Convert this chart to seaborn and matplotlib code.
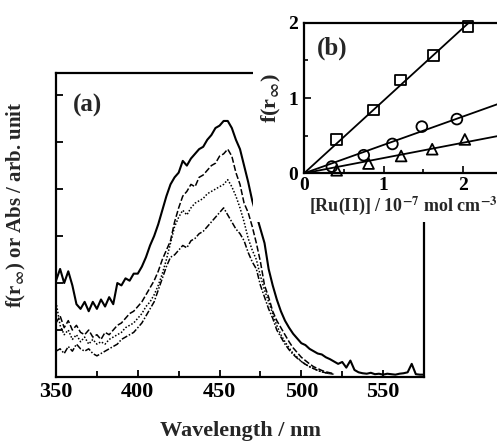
import numpy as np
import pandas as pd
import matplotlib
matplotlib.use("Agg")
import matplotlib.pyplot as plt
import seaborn as sns
from matplotlib.patches import Rectangle
from matplotlib.ticker import MultipleLocator

# ---------- data ----------
# (a) diffuse reflectance spectra, 2.5 nm steps
wl_full = np.arange(350, 575.1, 2.5)
wl_short = np.arange(350, 520.1, 2.5)

solid = [2.05, 2.3, 2.0, 2.25, 1.95, 1.55, 1.45, 1.6, 1.4, 1.6, 1.45, 1.65, 1.5, 1.7,
         1.55, 2.0, 1.95, 2.1, 2.05, 2.2, 2.2, 2.35, 2.55, 2.8, 3.0, 3.25, 3.55, 3.85,
         4.1, 4.25, 4.35, 4.6, 4.5, 4.65, 4.75, 4.85, 4.9, 5.05, 5.15, 5.3, 5.35, 5.45,
         5.45, 5.3, 5.05, 4.85, 4.5, 4.15, 3.75, 3.45, 3.15, 2.85, 2.3, 1.95, 1.65, 1.4,
         1.2, 1.05, 0.92, 0.82, 0.72, 0.68, 0.6, 0.55, 0.5, 0.48, 0.42, 0.38, 0.33, 0.28,
         0.32, 0.2, 0.35, 0.15, 0.1, 0.08, 0.07, 0.09, 0.06, 0.07, 0.05, 0.07, 0.06, 0.05,
         0.07, 0.08, 0.1, 0.28, 0.06, 0.05, 0.05]

dashed = [1.15, 1.3, 1.05, 1.2, 1.0, 1.1, 0.95, 0.9, 1.0, 0.85, 0.9, 0.8, 0.95, 0.9,
          1.0, 1.1, 1.15, 1.25, 1.35, 1.4, 1.5, 1.6, 1.75, 1.9, 2.05, 2.25, 2.5, 2.7,
          2.9, 3.3, 3.6, 3.85, 3.95, 4.1, 4.05, 4.25, 4.3, 4.4, 4.5, 4.55, 4.7, 4.75,
          4.85, 4.7, 4.35, 4.1, 3.7, 3.5, 3.2, 2.85, 2.45, 1.95, 1.7, 1.4, 1.2, 1.05,
          0.9, 0.75, 0.62, 0.52, 0.42, 0.35, 0.28, 0.22, 0.18, 0.14, 0.11, 0.09, 0.07]

dotted = [1.6, 1.1, 0.9, 1.0, 0.8, 0.9, 0.75, 0.85, 0.7, 0.8, 0.7, 0.75, 0.7, 0.8,
          0.85, 0.9, 0.95, 1.05, 1.1, 1.15, 1.25, 1.35, 1.5, 1.6, 1.75, 1.95, 2.2, 2.5,
          2.85, 3.2, 3.4, 3.55, 3.45, 3.6, 3.7, 3.75, 3.8, 3.9, 3.95, 4.0, 4.05, 4.1,
          4.2, 4.05, 3.85, 3.6, 3.3, 2.95, 2.7, 2.5, 2.15, 1.85, 1.6, 1.35, 1.1, 0.9,
          0.75, 0.62, 0.5, 0.42, 0.33, 0.27, 0.22, 0.18, 0.14, 0.11, 0.09, 0.07, 0.06]

dashdot = [0.55, 0.6, 0.5, 0.65, 0.55, 0.7, 0.6, 0.55, 0.6, 0.5, 0.45, 0.5, 0.55, 0.6,
           0.65, 0.7, 0.8, 0.85, 0.9, 0.95, 1.05, 1.15, 1.3, 1.45, 1.6, 1.85, 2.1, 2.35,
           2.55, 2.6, 2.7, 2.8, 2.75, 2.9, 2.95, 3.05, 3.1, 3.2, 3.3, 3.4, 3.5, 3.6,
           3.45, 3.3, 3.15, 3.05, 2.9, 2.65, 2.45, 2.3, 1.95, 1.7, 1.45, 1.25, 1.0, 0.85,
           0.7, 0.58, 0.48, 0.4, 0.33, 0.27, 0.22, 0.18, 0.14, 0.11, 0.09, 0.07, 0.06]

# (b) f(r_inf) vs [Ru(II)] / 1e-7 mol cm^-3
sq_x = [0.41, 0.87, 1.21, 1.63, 2.06]
sq_y = [0.45, 0.84, 1.24, 1.56, 1.95]
ci_x = [0.35, 0.75, 1.11, 1.48, 1.92]
ci_y = [0.09, 0.24, 0.39, 0.62, 0.72]
tr_x = [0.41, 0.81, 1.22, 1.61, 2.02]
tr_y = [0.04, 0.13, 0.23, 0.32, 0.45]

# ---------- style ----------
sns.set_style("ticks")
plt.rcParams["font.family"] = ["Liberation Serif", "DejaVu Serif"]
plt.rcParams["font.weight"] = "bold"
plt.rcParams["mathtext.fontset"] = "stix"
plt.rcParams["axes.linewidth"] = 1.6

fig = plt.figure(figsize=(4.97, 4.41), dpi=100)
ax = fig.add_axes([0.1127, 0.1451, 0.7404, 0.6893])

for y, wl, ls, lw in [(solid, wl_full, "-", 1.5),
                      (dashed, wl_short, (0, (4, 1.5)), 1.1),
                      (dotted, wl_short, (0, (1, 1.2)), 1.1),
                      (dashdot, wl_short, (0, (4, 1.2, 1, 1.2)), 1.1)]:
    sns.lineplot(x=wl, y=y, ax=ax, color="black", linewidth=lw, linestyle=ls)

ax.set_xlim(350, 575)
ax.set_ylim(0, 6.47)
ax.xaxis.set_major_locator(MultipleLocator(50))
ax.xaxis.set_minor_locator(MultipleLocator(25))
ax.yaxis.set_major_locator(MultipleLocator(1))
ax.set_yticklabels([])
ax.tick_params(which="both", direction="in", width=1.3, colors="black")
ax.tick_params(which="major", length=5)
ax.tick_params(which="minor", length=4)
ax.tick_params(axis="y", which="both", left=True, length=5)
for lab in ax.get_xticklabels():
    lab.set_fontsize(16)
    lab.set_fontweight("bold")
for s in ax.spines.values():
    s.set_visible(True)
    s.set_color("black")
ax.set_xlabel("Wavelength / nm", fontsize=16, fontweight="bold", labelpad=14)
ax.set_ylabel(r"f(r$_\infty$) or Abs / arb. unit", fontsize=15, fontweight="bold")
ax.yaxis.set_label_coords(-0.075, 0.565)
ax.text(0.045, 0.93, "(a)", transform=ax.transAxes, fontsize=18, fontweight="bold",
        va="top", ha="left")

# white block that the inset sits on
fig.patches.append(Rectangle((0.509, 0.497), 0.5, 0.51, transform=fig.transFigure,
                             facecolor="white", edgecolor="none", zorder=5))

# ---------- inset (b) ----------
ins = fig.add_axes([0.6117, 0.607, 0.4165, 0.3415], zorder=10)
ins.set_facecolor("white")
xfit = np.array([0, 2.6])
for xs, ys, mk in [(sq_x, sq_y, "s"), (ci_x, ci_y, "o"), (tr_x, tr_y, "^")]:
    xs_a, ys_a = np.array(xs), np.array(ys)
    slope = (xs_a * ys_a).sum() / (xs_a ** 2).sum()
    sns.lineplot(x=xfit, y=slope * xfit, ax=ins, color="black", linewidth=1.3)
    sns.scatterplot(x=xs, y=ys, ax=ins, marker=mk, s=60, facecolor="none",
                    edgecolor="black", linewidth=1.3, zorder=3, clip_on=False)
ins.set_xlim(0, 2.6)
ins.set_ylim(0, 2)
ins.xaxis.set_major_locator(MultipleLocator(1))
ins.xaxis.set_minor_locator(MultipleLocator(0.5))
ins.yaxis.set_major_locator(MultipleLocator(1))
ins.yaxis.set_minor_locator(MultipleLocator(0.5))
ins.tick_params(which="both", direction="in", width=1.2, colors="black", labelsize=14)
ins.tick_params(axis="x", pad=3)
ins.tick_params(axis="y", pad=4)
ins.tick_params(which="major", length=5)
ins.tick_params(which="minor", length=3)
for lab in ins.get_xticklabels() + ins.get_yticklabels():
    lab.set_fontweight("bold")
for s in ins.spines.values():
    s.set_visible(True)
    s.set_color("black")
ins.set_xlabel(r"[Ru(II)] / 10$^{\mathbf{-7}}$ mol cm$^{\mathbf{-3}}$", fontsize=13,
               fontweight="bold")
ins.xaxis.set_label_coords(0.48, -0.14)
ins.set_ylabel(r"f(r$_\infty$)", fontsize=16, fontweight="bold", labelpad=4)
ins.text(0.06, 0.83, "(b)", transform=ins.transAxes, fontsize=18, fontweight="bold",
         va="center", ha="left")

fig.savefig("out.png", dpi=100)
